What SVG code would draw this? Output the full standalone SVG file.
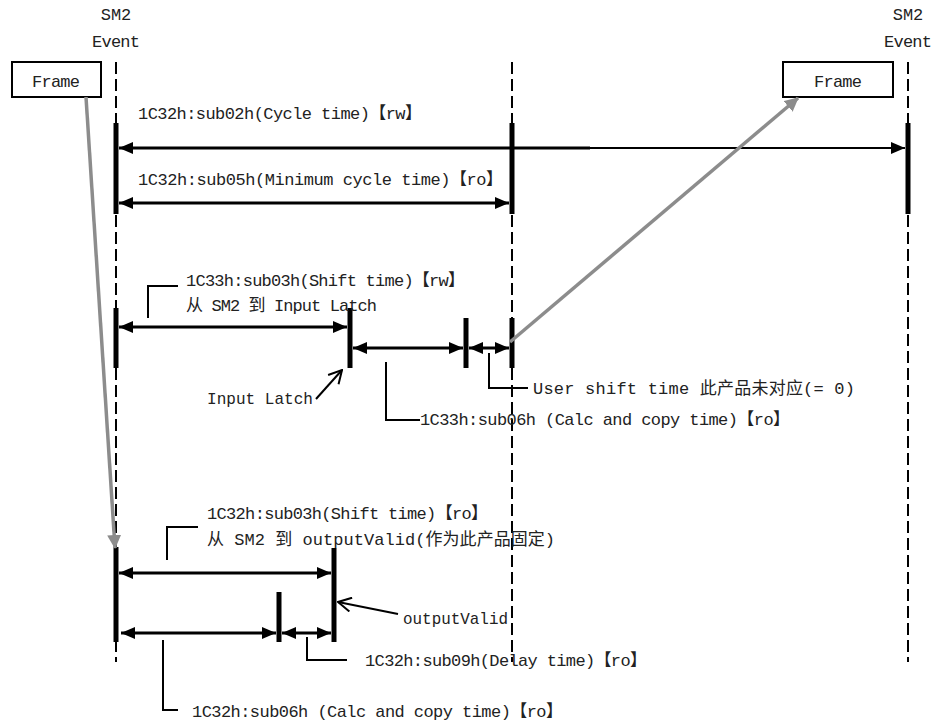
<svg xmlns="http://www.w3.org/2000/svg" width="933" height="724" viewBox="0 0 933 724">
<style>
text{font-family:"Liberation Mono","Noto Sans CJK SC",monospace;font-size:17px;fill:#222}
.c{font-family:"Noto Sans CJK SC",sans-serif;font-size:17px}
.life{stroke:#000;stroke-width:2;stroke-dasharray:12 5;fill:none}
.bar{stroke:#000;stroke-width:5;fill:none}
.arr{stroke:#000;stroke-width:3;fill:none;marker-start:url(#ah);marker-end:url(#ah)}
.brk{stroke:#000;stroke-width:2;fill:none}
.gray{stroke:#8c8c8c;stroke-width:3.5;fill:none;marker-end:url(#gh)}
.open{stroke:#000;stroke-width:2;fill:none;marker-end:url(#oh)}
.box{fill:#fff;stroke:#000;stroke-width:2}
</style>
<defs>
<marker id="ah" markerUnits="userSpaceOnUse" markerWidth="14" markerHeight="12" refX="14" refY="6" orient="auto-start-reverse"><path d="M0,0 L14,6 L0,12 z" fill="#000"/></marker>
<marker id="gh" markerUnits="userSpaceOnUse" markerWidth="14" markerHeight="14" refX="13" refY="7" orient="auto"><path d="M0,0 L14,7 L0,14 z" fill="#8c8c8c"/></marker>
<marker id="oh" markerUnits="userSpaceOnUse" markerWidth="16" markerHeight="16" refX="15" refY="8" orient="auto"><path d="M2,1 L15,8 L2,15" fill="none" stroke="#000" stroke-width="2"/></marker>
</defs>
<rect width="933" height="724" fill="#fff"/>

<g id="lifeline-left">
<text x="116" y="20" text-anchor="middle">SM2</text>
<text x="116" y="47" text-anchor="middle" textLength="48">Event</text>
<line class="life" x1="116" y1="62" x2="116" y2="662"/>
</g>
<g id="lifeline-mid">
<line class="life" x1="512" y1="62" x2="512" y2="662"/>
</g>
<g id="lifeline-right">
<text x="908" y="20" text-anchor="middle">SM2</text>
<text x="908" y="47" text-anchor="middle" textLength="48">Event</text>
<line class="life" x1="908" y1="62" x2="908" y2="662"/>
</g>

<g id="frame-left"><rect class="box" x="12" y="62" width="89" height="35"/><text x="56" y="87" text-anchor="middle" textLength="48">Frame</text></g>
<g id="frame-right"><rect class="box" x="783" y="62" width="110" height="35"/><text x="838" y="87" text-anchor="middle" textLength="48">Frame</text></g>

<g id="bars">
<line class="bar" x1="116" y1="123" x2="116" y2="214"/>
<line class="bar" x1="512" y1="123" x2="512" y2="214"/>
<line class="bar" x1="908" y1="123" x2="908" y2="214"/>
<line class="bar" x1="116" y1="308" x2="116" y2="368"/>
<line class="bar" x1="350" y1="308" x2="350" y2="368"/>
<line class="bar" x1="466" y1="318" x2="466" y2="368"/>
<line class="bar" x1="512" y1="318" x2="512" y2="368"/>
<line class="bar" x1="116" y1="547" x2="116" y2="642"/>
<line class="bar" x1="334" y1="548" x2="334" y2="642"/>
<line class="bar" x1="279" y1="592" x2="279" y2="642"/>
</g>

<g id="labels">
<text x="138" y="119" textLength="284" lengthAdjust="spacing">1C32h:sub02h(Cycle time)<tspan class="c">【</tspan>rw<tspan class="c">】</tspan></text>
<text x="138" y="185" textLength="365" lengthAdjust="spacing">1C32h:sub05h(Minimum cycle time)<tspan class="c">【</tspan>ro<tspan class="c">】</tspan></text>
<text x="186" y="286" textLength="279" lengthAdjust="spacing">1C33h:sub03h(Shift time)<tspan class="c">【</tspan>rw<tspan class="c">】</tspan></text>
<text x="186" y="311" textLength="191" lengthAdjust="spacing"><tspan class="c">从</tspan> SM2 <tspan class="c">到</tspan> Input Latch</text>
<text x="207" y="404" textLength="106" lengthAdjust="spacingAndGlyphs">Input Latch</text>
<text x="420" y="425" textLength="370" lengthAdjust="spacing">1C33h:sub06h (Calc and copy time)<tspan class="c">【</tspan>ro<tspan class="c">】</tspan></text>
<text x="533" y="394" textLength="322" lengthAdjust="spacing">User shift time <tspan class="c">此产品未对应</tspan>(= 0)</text>
<text x="207" y="519" textLength="281" lengthAdjust="spacing">1C32h:sub03h(Shift time)<tspan class="c">【</tspan>ro<tspan class="c">】</tspan></text>
<text x="207" y="545" textLength="348" lengthAdjust="spacing"><tspan class="c">从</tspan> SM2 <tspan class="c">到</tspan> outputValid(<tspan class="c">作为此产品固定</tspan>)</text>
<text x="403" y="624" textLength="105" lengthAdjust="spacingAndGlyphs">outputValid</text>
<text x="365" y="666" textLength="282" lengthAdjust="spacing">1C32h:sub09h(Delay time)<tspan class="c">【</tspan>ro<tspan class="c">】</tspan></text>
<text x="192" y="717" textLength="371" lengthAdjust="spacing">1C32h:sub06h (Calc and copy time)<tspan class="c">【</tspan>ro<tspan class="c">】</tspan></text>
</g>

<g id="connectors">
<line stroke="#000" stroke-width="3" marker-start="url(#ah)" x1="119" y1="148" x2="590" y2="148"/>
<line stroke="#000" stroke-width="2" marker-end="url(#ah)" x1="589" y1="148" x2="905" y2="148"/>
<line class="arr" x1="119" y1="203" x2="509" y2="203"/>
<line class="arr" x1="119" y1="327" x2="347" y2="327"/>
<line class="arr" x1="353" y1="348" x2="463" y2="348"/>
<line class="arr" x1="469" y1="348" x2="509" y2="348"/>
<line class="arr" x1="119" y1="573" x2="331" y2="573"/>
<line class="arr" x1="121" y1="633" x2="276" y2="633"/>
<line class="arr" x1="282" y1="633" x2="331" y2="633"/>
<polyline class="brk" points="148,318 148,286 178,286"/>
<polyline class="brk" points="386,362 386,420 420,420"/>
<polyline class="brk" points="489,353 489,388 528,388"/>
<polyline class="brk" points="167,560 167,527 198,527"/>
<polyline class="brk" points="307,637 307,660 347,660"/>
<polyline class="brk" points="163,640 163,710 178,710"/>
<line class="open" x1="316" y1="399" x2="342" y2="370"/>
<line class="open" x1="398" y1="614" x2="338" y2="602"/>
<line class="gray" x1="86" y1="97" x2="115" y2="548"/>
<line class="gray" x1="510" y1="342" x2="798" y2="98"/>
</g>
</svg>
